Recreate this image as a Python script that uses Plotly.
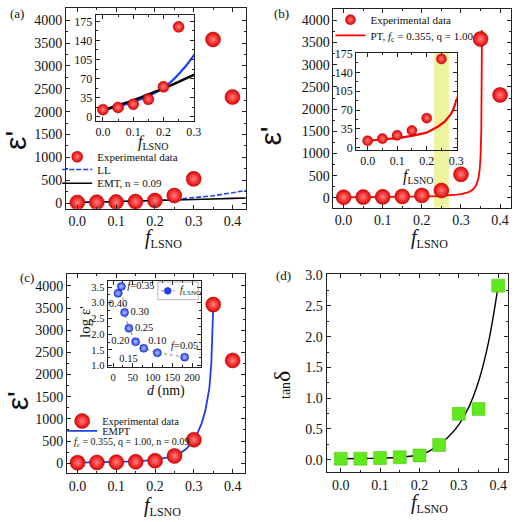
import plotly.graph_objects as go

# ---------------- data ----------------
f_lsno = [0.00, 0.05, 0.10, 0.15, 0.20, 0.25, 0.30, 0.35, 0.40]
eps_exp = [13, 17, 23, 32, 55, 165, 530, 3580, 2320]
tan_delta = [0.016, 0.016, 0.027, 0.040, 0.069, 0.24, 0.745, 0.825, 2.83]

ll_f = [0.0, 0.05, 0.10, 0.15, 0.20, 0.25, 0.30, 0.35, 0.40, 0.45]
ll_eps = [12, 19, 27, 38, 53, 78, 112, 160, 225, 300]
emt_eps = [12, 21, 30, 41, 52, 64, 77, 90, 103, 115]

pt_f = [0.0, 0.05, 0.10, 0.15, 0.20, 0.22, 0.24, 0.26, 0.27, 0.28, 0.29, 0.30,
        0.31, 0.32, 0.33, 0.335, 0.34, 0.345, 0.348, 0.35, 0.352, 0.353, 0.3537]
pt_eps = [13, 15, 18, 22, 28, 34, 40, 48, 54, 61, 71, 85,
          102, 131, 183, 230, 306, 460, 650, 920, 1540, 2300, 3780]

empt_f = [0.0, 0.05, 0.10, 0.15, 0.20, 0.22, 0.24, 0.26, 0.28, 0.29, 0.30,
          0.31, 0.32, 0.33, 0.335, 0.34, 0.345, 0.35]
empt_eps = [15, 20, 28, 42, 75, 100, 140, 200, 320, 420, 540,
            690, 900, 1200, 1420, 1700, 2250, 3550]

tan_fit_f = [0.0, 0.05, 0.10, 0.15, 0.20, 0.225, 0.25, 0.275, 0.30, 0.325, 0.35, 0.375, 0.40]
tan_fit = [0.015, 0.018, 0.025, 0.040, 0.080, 0.14, 0.25, 0.38, 0.57, 0.85, 1.27, 1.90, 2.83]

d_nm = [181, 112, 77.5, 57, 40, 29, 21, 12.5]
log_eps = [1.27, 1.41, 1.55, 1.76, 2.19, 2.69, 3.52, 3.30]
d_labels = ["<i>f</i>=0.05", "0.10", "0.15", "0.20", "0.25", "0.30", "<i>f</i>=0.35", "0.40"]
d_label_pos = ["top center", "top center", "bottom left", "middle left",
               "middle right", "middle right", "middle right", "bottom center"]

band_f = [0.231, 0.269]

# ---------------- layout helpers ----------------
W, H = 520, 522
SERIF = "Liberation Serif"


def px(x):
    return x / W


def py(y):
    return 1 - y / H


def dom_x(a, b):
    return [px(a), px(b)]


def dom_y(top, bottom):
    return [py(bottom), py(top)]


def axis(domain, rng, dtick, minor, fs=14, fmt=None, anchor=None):
    d = dict(domain=domain, range=rng, dtick=dtick, tick0=0, tickangle=0,
             showline=True, linecolor="#222", linewidth=1, mirror="allticks",
             ticks="inside", ticklen=4, tickwidth=1, tickcolor="#222",
             showgrid=False, zeroline=False,
             tickfont=dict(family=SERIF, size=fs, color="#111"),
             minor=dict(ticks="inside", ticklen=2, tickcolor="#222", dtick=minor, showgrid=False),
             anchor=anchor)
    if fmt:
        d["tickformat"] = fmt
    return d


sphere_big = dict(color="#e80000", size=15, line=dict(color="#a00000", width=0.5),
                  gradient=dict(type="radial", color="#ff8080"))
sphere_small = dict(color="#e80000", size=10, line=dict(color="#a00000", width=0.5),
                    gradient=dict(type="radial", color="#ff8080"))

fig = go.Figure()

# ---------- (a) main ----------
fig.add_trace(go.Scatter(x=ll_f, y=ll_eps, xaxis="x", yaxis="y", mode="lines",
                         line=dict(color="#1f3fff", width=1.6, dash="5px,2px"),
                         name="LL", legend="legend2"))
fig.add_trace(go.Scatter(x=ll_f, y=emt_eps, xaxis="x", yaxis="y", mode="lines",
                         line=dict(color="#000000", width=1.6),
                         name="EMT, n = 0.09", legend="legend3"))
fig.add_trace(go.Scatter(x=f_lsno, y=eps_exp, xaxis="x", yaxis="y", mode="markers",
                         marker=sphere_big, showlegend=False))
# (a) inset
fig.add_trace(go.Scatter(x=ll_f, y=ll_eps, xaxis="x2", yaxis="y2", mode="lines",
                         line=dict(color="#1f3fff", width=2.2, shape="spline"), showlegend=False))
fig.add_trace(go.Scatter(x=ll_f, y=emt_eps, xaxis="x2", yaxis="y2", mode="lines",
                         line=dict(color="#000000", width=2.5, shape="spline"), showlegend=False))
fig.add_trace(go.Scatter(x=f_lsno, y=eps_exp, xaxis="x2", yaxis="y2", mode="markers",
                         marker=dict(sphere_small, size=11), name="Experimental data",
                         legend="legend"))

# ---------- (b) main ----------
fig.add_trace(go.Scatter(x=pt_f, y=pt_eps, xaxis="x3", yaxis="y3", mode="lines",
                         line=dict(color="#ff0000", width=1.8),
                         name="PT, <i>f</i><sub>c</sub> = 0.355, q = 1.00", legend="legend5"))
fig.add_trace(go.Scatter(x=f_lsno, y=eps_exp, xaxis="x3", yaxis="y3", mode="markers",
                         marker=sphere_big, showlegend=False))
# (b) inset
fig.add_trace(go.Scatter(x=pt_f, y=pt_eps, xaxis="x4", yaxis="y4", mode="lines",
                         line=dict(color="#ff0000", width=2.2), showlegend=False))
fig.add_trace(go.Scatter(x=f_lsno, y=eps_exp, xaxis="x4", yaxis="y4", mode="markers",
                         marker=dict(sphere_small, size=10), name="Experimental data",
                         legend="legend4"))

# ---------- (c) main ----------
fig.add_trace(go.Scatter(x=empt_f, y=empt_eps, xaxis="x5", yaxis="y5", mode="lines",
                         line=dict(color="#1f3fe0", width=1.8),
                         name="EMPT", legend="legend7"))
fig.add_trace(go.Scatter(x=f_lsno, y=eps_exp, xaxis="x5", yaxis="y5", mode="markers",
                         marker=sphere_big, name="Experimental data", legend="legend6"))
# (c) inset
fig.add_trace(go.Scatter(x=d_nm, y=log_eps, xaxis="x6", yaxis="y6", mode="lines+markers+text",
                         line=dict(color="#888888", width=1, dash="dot"),
                         marker=dict(color="#2040ff", size=8, line=dict(color="#10208a", width=0.5),
                                     gradient=dict(type="radial", color="#b8c4ff")),
                         text=d_labels, textposition=d_label_pos,
                         textfont=dict(family=SERIF, size=10.5, color="#111"),
                         showlegend=False))

# ---------- (d) ----------
fig.add_trace(go.Scatter(x=tan_fit_f, y=tan_fit, xaxis="x7", yaxis="y7", mode="lines",
                         line=dict(color="#000000", width=1.4, shape="spline"), showlegend=False))
fig.add_trace(go.Scatter(x=f_lsno, y=tan_delta, xaxis="x7", yaxis="y7", mode="markers",
                         marker=dict(color="#62e81e", size=13, symbol="square",
                                     line=dict(color="#4cc010", width=0.5)),
                         showlegend=False))

# ---------------- axes ----------------
lay = dict(
    xaxis=axis(dom_x(67, 249), [-0.029, 0.434], 0.1, 0.05, 14, ".1f", "y"),
    yaxis=axis(dom_y(2, 207), [-122, 4270], 500, 250, 14, None, "x"),
    xaxis2=axis(dom_x(97, 197), [-0.024, 0.302], 0.1, 0.05, 12, ".1f", "y2"),
    yaxis2=axis(dom_y(9, 117), [-7, 187], 35, 17.5, 12, None, "x2"),
    xaxis3=axis(dom_x(338, 518), [-0.026, 0.428], 0.1, 0.05, 14, ".1f", "y3"),
    yaxis3=axis(dom_y(3, 206), [-221, 4258], 500, 250, 14, None, "x3"),
    xaxis4=axis(dom_x(361, 463), [-0.039, 0.302], 0.1, 0.05, 12, ".1f", "y4"),
    yaxis4=axis(dom_y(48, 147), [-4, 176], 35, 17.5, 12, None, "x4"),
    xaxis5=axis(dom_x(68, 248), [-0.027, 0.431], 0.1, 0.05, 14, ".1f", "y5"),
    yaxis5=axis(dom_y(274, 477), [-220, 4265], 500, 250, 14, None, "x5"),
    xaxis6=axis(dom_x(109, 204), [-14, 223], 50, 25, 10.5, None, "y6"),
    yaxis6=axis(dom_y(281, 369), [0.95, 3.69], 0.5, 0.25, 10.5, ".1f", "x6"),
    xaxis7=axis(dom_x(331, 515), [-0.036, 0.425], 0.1, 0.05, 14, ".1f", "y7"),
    yaxis7=axis(dom_y(274, 476), [-0.2, 3.016], 0.5, 0.25, 14, ".1f", "x7"),
)
fig.update_layout(**lay)


def leg(x, y, size=11):
    return dict(bgcolor="rgba(0,0,0,0)", borderwidth=0, itemwidth=30, itemsizing="trace",
                font=dict(family=SERIF, size=size, color="#111"),
                xanchor="left", yanchor="middle", x=px(x), y=py(y))


fig.update_layout(
    width=W, height=H, margin=dict(l=0, r=0, t=0, b=0),
    paper_bgcolor="white", plot_bgcolor="rgba(0,0,0,0)",
    legend=leg(58, 154), legend2=leg(58, 167), legend3=leg(58, 181),
    legend4=leg(335, 14), legend5=leg(335, 30),
    legend6=leg(63, 424, 10.5), legend7=leg(63, 434, 10.5),
)

# yellow band in (b)
fig.add_shape(type="rect", xref="x3", yref="y3", x0=band_f[0], x1=band_f[1],
              y0=-221, y1=3271, fillcolor="#eef3a0", line=dict(width=0), layer="below")

# inset (c) legend box (manual)
fig.add_shape(type="rect", xref="paper", yref="paper", x0=px(160), x1=px(201),
              y0=py(300), y1=py(282), line=dict(color="#999", width=0.7))
fig.add_shape(type="line", xref="paper", yref="paper", x0=px(163), x1=px(177),
              y0=py(291), y1=py(291), line=dict(color="#888", width=1, dash="dot"))
fig.add_shape(type="circle", xref="paper", yref="paper", x0=px(166.5), x1=px(173.5),
              y0=py(294.5), y1=py(287.5), fillcolor="#2040ff", line=dict(color="#10208a", width=0.5))

ann = []


def A(x, y, text, size=14, angle=0, family=SERIF, xanchor="center", yanchor="middle"):
    ann.append(dict(x=px(x), y=py(y), xref="paper", yref="paper", text=text, showarrow=False,
                    textangle=angle, xanchor=xanchor, yanchor=yanchor,
                    font=dict(family=family, size=size, color="#111")))


A(17, 8, "(a)", 13)
A(285, 8, "(b)", 13)
A(27, 277, "(c)", 13)
A(287, 275, "(d)", 13)

A(15, 137, "ε'", 30, -90, "Liberation Sans")
A(274, 133, "ε'", 30, -90, "Liberation Sans")
A(18, 403, "ε'", 30, -90, "Liberation Sans")
A(86, 323, "log ε'", 15, -90)
A(286, 387, "<span style='font-size:14px'>tan</span>δ", 24, -90)

xt = "<i>f</i><sub><span style='font-size:12px'>LSNO</span></sub>"
xts = "<i>f</i><sub><span style='font-size:10px'>LSNO</span></sub>"
A(166, 238, xt, 20)
A(156, 139, xts, 16)
A(435, 237, xt, 20)
A(424, 174, xts, 16)
A(165, 511, xt, 20)
A(435, 508, xt, 20)
A(168, 393, "<i>d</i> (nm)", 14)
A(73, 446, "<i>f</i><sub>c</sub> = 0.355, q = 1.00, n = 0.09", 10, xanchor="left")
A(180, 291, "<i>f</i><sub><span style='font-size:7px'>LSNO</span></sub>", 10, xanchor="left")

fig.update_layout(annotations=ann)

fig.write_html("out.html", config={"displayModeBar": False},
               post_script="document.body.style.margin='0px';document.body.style.padding='0px';")
